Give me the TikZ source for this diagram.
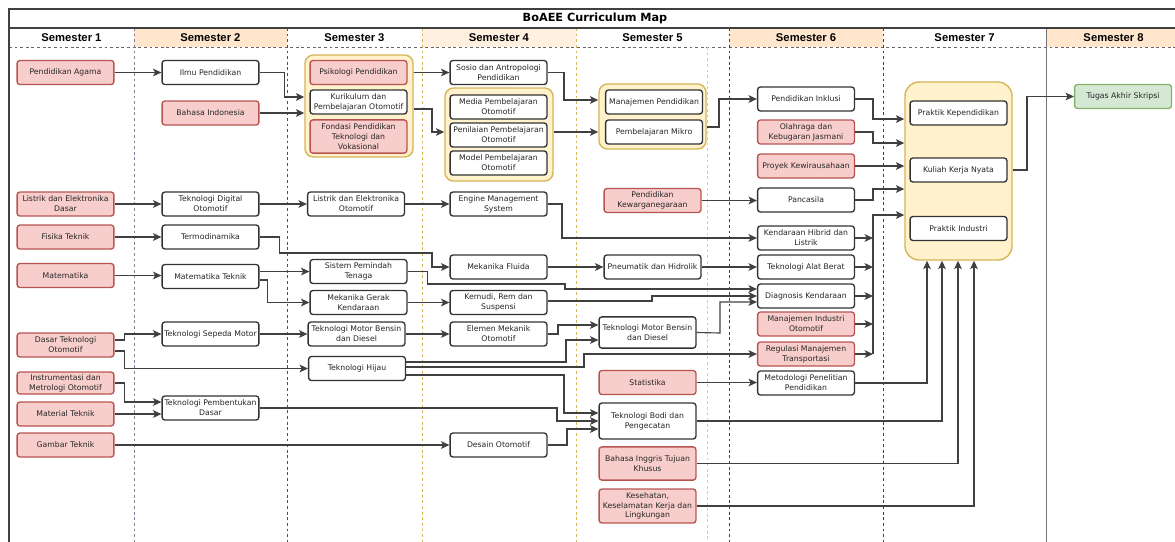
\documentclass[tikz,border=0pt]{standalone}
\usepackage{fontspec}
\setmainfont{DejaVu Sans}
\newfontfamily\hdfont{Liberation Sans}
\usetikzlibrary{arrows.meta}
\definecolor{pinkfill}{HTML}{F8CECC}
\definecolor{pinkline}{HTML}{B85450}
\definecolor{grpfill}{HTML}{FFF2CC}
\definecolor{grpline}{HTML}{D6B656}
\definecolor{greenfill}{HTML}{D5E8D4}
\definecolor{greenline}{HTML}{82B366}
\definecolor{peach}{HTML}{FFE6CC}
\definecolor{peachlt}{HTML}{FFF0E0}
\definecolor{slate}{HTML}{7A8294}
\definecolor{slatedk}{HTML}{4A5060}
\begin{document}
\begin{tikzpicture}[x=0.025cm, y=-0.025cm,
    every node/.style={text=black!85, inner sep=1pt, align=center, font=\fontsize{5.5}{7}\selectfont},
    box/.style={draw=black!80, fill=white, rounded corners=2pt, line width=0.95pt, minimum width=2.42cm, minimum height=0.6cm},
    req/.style={box, draw=pinkline, fill=pinkfill},
    goal/.style={box, draw=greenline, fill=greenfill},
    grp/.style={draw=grpline, fill=grpfill, rounded corners=6pt, line width=1pt, inner sep=0pt},
    arr/.style={draw=black!75, line width=0.8pt, -{Stealth[length=6pt, width=5.5pt, inset=1.5pt]}},
    sem/.style={font=\hdfont\bfseries\fontsize{8}{9}\selectfont, text=black},
    sep/.style={dash pattern=on 2pt off 2pt, line width=0.6pt}]
  \useasboundingbox (0,0) rectangle (1175,541);
  % header
  \fill[peach] (134,28) rectangle (287,47);
  \fill[peachlt] (422,28) rectangle (576,47);
  \fill[peach] (729,28) rectangle (883,47);
  \fill[peach] (1046,28) rectangle (1190,47);
  \draw[sep, draw=black!60] (9,47) -- (1190,47);
  \draw[sep, draw=slate] (134,28) -- (134,560);
  \draw[sep, draw=slatedk] (287,28) -- (287,560);
  \draw[sep, draw=grpline] (422,28) -- (422,560);
  \draw[sep, draw=grpline] (576,28) -- (576,560);
  \draw[sep, draw=black!20] (707,47) -- (707,560);
  \draw[sep, draw=black!75] (729,28) -- (729,560);
  \draw[sep, draw=black!75] (883,28) -- (883,560);
  \draw[draw=black!55, line width=0.6pt] (1046,28) -- (1046,560);
  \draw[draw=black!75, line width=0.9pt] (9,9) rectangle (1190,560);
  \draw[draw=black!75, line width=0.9pt] (9,28) -- (1190,28);
  \node[font=\bfseries\fontsize{8}{9}\selectfont, text=black] (title) at (595,18.5) {BoAEE Curriculum Map};
  \node[sem] (s1) at (71.5,37.5) {Semester 1};
  \node[sem] (s2) at (210.5,37.5) {Semester 2};
  \node[sem] (s3) at (354.5,37.5) {Semester 3};
  \node[sem] (s4) at (499,37.5) {Semester 4};
  \node[sem] (s5) at (652.5,37.5) {Semester 5};
  \node[sem] (s6) at (806,37.5) {Semester 6};
  \node[sem] (s7) at (964.5,37.5) {Semester 7};
  \node[sem] (s8) at (1113.5,37.5) {Semester 8};
  % groups
  \node[grp, minimum width=2.7cm, minimum height=2.55cm] (grpa) at (359,106) {};
  \node[grp, minimum width=2.7cm, minimum height=2.325cm] (grpb) at (499,134.5) {};
  \node[grp, minimum width=2.675cm, minimum height=1.625cm] (grpc) at (652.5,116.5) {};
  \node[grp, rounded corners=10pt, minimum width=2.675cm, minimum height=4.45cm] (grpd) at (958.5,171) {};
  % semester 1
  \node[req] (agama) at (65.5,72.5) {Pendidikan Agama};
  \node[req] (led) at (65.5,204) {Listrik dan Elektronika\\Dasar};
  \node[req] (fisika) at (65.5,237) {Fisika Teknik};
  \node[req] (mtk) at (65.5,275.5) {Matematika};
  \node[req] (dto) at (65.5,345) {Dasar Teknologi\\Otomotif};
  \node[req, minimum height=0.55cm] (imo) at (65.5,383) {Instrumentasi dan\\Metrologi Otomotif};
  \node[req] (mattek) at (65.5,414) {Material Teknik};
  \node[req] (gamtek) at (65.5,445) {Gambar Teknik};
  % semester 2
  \node[box] (ilmu) at (210.5,72.5) {Ilmu Pendidikan};
  \node[req] (bindo) at (210.5,113) {Bahasa Indonesia};
  \node[box] (tdo) at (210.5,204) {Teknologi Digital\\Otomotif};
  \node[box] (termo) at (210.5,237) {Termodinamika};
  \node[box] (mtktek) at (210.5,276.5) {Matematika Teknik};
  \node[box] (tsm) at (210.5,334) {Teknologi Sepeda Motor};
  \node[box] (tpd) at (210.5,408) {Teknologi Pembentukan\\Dasar};
  % semester 3
  \node[req] (psiko) at (358.5,72.5) {Psikologi Pendidikan};
  \node[box] (kurik) at (358.5,102) {Kurikulum dan\\Pembelajaran Otomotif};
  \node[req, minimum height=0.83cm] (fondasi) at (358.5,136.5) {Fondasi Pendidikan\\Teknologi dan\\Vokasional};
  \node[box] (leo) at (356,204) {Listrik dan Elektronika\\Otomotif};
  \node[box] (spt) at (358.5,271.5) {Sistem Pemindah\\Tenaga};
  \node[box] (mgk) at (358.5,302.5) {Mekanika Gerak\\Kendaraan};
  \node[box] (tmbd3) at (356.5,334) {Teknologi Motor Bensin\\dan Diesel};
  \node[box] (hijau) at (357,368.5) {Teknologi Hijau};
  % semester 4
  \node[box] (sosio) at (498.5,72.5) {Sosio dan Antropologi\\Pendidikan};
  \node[box] (media) at (498.5,107) {Media Pembelajaran\\Otomotif};
  \node[box] (penilaian) at (498.5,135) {Penilaian Pembelajaran\\Otomotif};
  \node[box] (model) at (498.5,163) {Model Pembelajaran\\Otomotif};
  \node[box] (ems) at (498.5,204) {Engine Management\\System};
  \node[box] (fluida) at (498.5,267) {Mekanika Fluida};
  \node[box] (kemudi) at (498.5,302.5) {Kemudi, Rem dan\\Suspensi};
  \node[box] (elemen) at (498.5,334) {Elemen Mekanik\\Otomotif};
  \node[box] (desain) at (498.5,445) {Desain Otomotif};
  % semester 5
  \node[box] (manpend) at (654,102) {Manajemen Pendidikan};
  \node[box] (mikro) at (654,132) {Pembelajaran Mikro};
  \node[req] (kwn) at (652.5,200.5) {Pendidikan\\Kewarganegaraan};
  \node[box] (pneu) at (652.5,267) {Pneumatik dan Hidrolik};
  \node[box, minimum height=0.78cm] (tmbd5) at (647.5,332.5) {Teknologi Motor Bensin\\dan Diesel};
  \node[req] (stat) at (647.5,382.5) {Statistika};
  \node[box, minimum height=0.9cm] (bodi) at (647.5,421) {Teknologi Bodi dan\\Pengecatan};
  \node[req, minimum height=0.83cm] (bing) at (647.5,463.5) {Bahasa Inggris Tujuan\\Khusus};
  \node[req, minimum height=0.85cm] (k3l) at (647.5,506) {Kesehatan,\\Keselamatan Kerja dan\\Lingkungan};
  % semester 6
  \node[box] (inklusi) at (806,99) {Pendidikan Inklusi};
  \node[req] (olahraga) at (806,132) {Olahraga dan\\Kebugaran Jasmani};
  \node[req] (proyek) at (806,166) {Proyek Kewirausahaan};
  \node[box] (pancasila) at (806,200) {Pancasila};
  \node[box] (hibrid) at (806,238) {Kendaraan Hibrid dan\\Listrik};
  \node[box] (alat) at (806,267) {Teknologi Alat Berat};
  \node[box] (diag) at (806,296) {Diagnosis Kendaraan};
  \node[req] (mio) at (806,324) {Manajemen Industri\\Otomotif};
  \node[req] (regulasi) at (806,354) {Regulasi Manajemen\\Transportasi};
  \node[box] (metpen) at (806,383) {Metodologi Penelitian\\Pendidikan};
  % semester 7 and 8
  \node[box] (ppl) at (958.5,113) {Praktik Kependidikan};
  \node[box] (kkn) at (958.5,170) {Kuliah Kerja Nyata};
  \node[box] (pi) at (958.5,228.5) {Praktik Industri};
  \node[goal] (skripsi) at (1123,96.5) {Tugas Akhir Skripsi};
  % semester 1 -> 2
  \draw[arr] (agama) -- (ilmu);
  \draw[arr] (led) -- (tdo);
  \draw[arr] (fisika) -- (termo);
  \draw[arr] (mtk.east) -- (mtktek.west |- mtk.east);
  \draw[arr] (dto.east |- 0,340) -- ++(10,0) |- (tsm.west);
  \draw[arr] (dto.east |- 0,351) -- ++(10,0) |- (hijau.west);
  \draw[arr] (imo.east) -- ++(10,0) |- (tpd.west |- 0,402);
  \draw[arr] (mattek.east) -- (tpd.west |- mattek.east);
  \draw[arr] (gamtek.east) -- (desain.west |- gamtek.east);
  % semester 2 -> 3
  \draw[arr] (ilmu.east) -- ++(25,0) |- (grpa.west |- 0,97);
  \draw[arr] (bindo.east) -- (grpa.west |- bindo.east);
  \draw[arr] (tdo) -- (leo);
  \draw[arr] (termo.east) -- ++(20,0) |- (432,253) |- (fluida.west);
  \draw[arr] (mtktek.east |- spt.west) -- (spt.west);
  \draw[arr] (mtktek.east |- 0,280) -- ++(8,0) |- (mgk.west);
  \draw[arr] (tsm.east) -- (tmbd3.west |- tsm.east);
  \draw[arr] (tpd.east) -- (557,408) |- (bodi.west |- 0,421);
  % semester 3 -> 4
  \draw[arr] (grpa.east |- psiko.east) -- (sosio.west);
  \draw[arr] (grpa.east |- 0,109) -- (432,109) |- (grpb.west |- mikro.west);
  \draw[arr] (leo.east) -- (ems.west |- leo.east);
  \draw[arr] (spt.east) -- ++(20,0) |- (565,284) |- (diag.west |- 0,289);
  \draw[arr] (mgk) -- (kemudi);
  \draw[arr] (tmbd3.east) -- (elemen.west |- tmbd3.east);
  \draw[arr] (hijau.east |- 0,362) -- (566,362) |- (tmbd5.west |- 0,340);
  \draw[arr] (hijau.east |- 0,367) -- (584,367) |- (regulasi.west);
  \draw[arr] (hijau.east |- 0,375) -- (564,375) |- (bodi.west |- 0,413);
  % semester 4 -> 5
  \draw[arr] (sosio.east) -- (564,72.5) |- (grpc.west |- 0,100);
  \draw[arr] (grpb.east |- mikro.west) -- (grpc.west |- mikro.west);
  \draw[arr] (ems.east) -- (562,204) |- (hibrid.west);
  \draw[arr] (fluida) -- (pneu);
  \draw[arr] (kemudi.east |- 0,301) -- (652,301) |- (diag.west |- 0,296);
  \draw[arr] (elemen.east) -- (558,334) |- (tmbd5.west |- 0,325);
  \draw[arr] (desain.east |- gamtek.east) -- (567,445) |- (bodi.west |- 0,429);
  % semester 5 -> 6
  \draw[arr] (grpc.east |- 0,127) -- (719,127) |- (inklusi.west);
  \draw[arr] (kwn.east) -- (pancasila.west |- kwn.east);
  \draw[arr] (pneu) -- (alat);
  \draw[arr] (tmbd5.east) -- (720,333) |- (diag.west |- 0,302);
  \draw[arr] (stat.east) -- (metpen.west |- stat.east);
  % semester 6 -> 7
  \draw[arr] (inklusi.east) -- (873,99) |- (grpd.west |- 0,119);
  \draw[arr] (olahraga.east) -- (873,132) |- (grpd.west |- 0,143);
  \draw[arr] (proyek.east) -- (grpd.west |- proyek.east);
  \draw[arr] (pancasila.east) -- (873,200) |- (grpd.west |- 0,189);
  \foreach \n in {hibrid,alat,diag,mio,regulasi}
    \draw[arr] (\n.east) -- (\n.east -| 873,0);
  \draw[arr] (873,354) -- (873,215) -- (grpd.west |- 0,215);
  \draw[arr] (metpen.east) -| (grpd.south -| 927,0);
  \draw[arr] (bodi.east) -| (grpd.south -| 942,0);
  \draw[arr] (bing.east) -| (grpd.south -| 958,0);
  \draw[arr] (k3l.east) -| (grpd.south -| 974,0);
  % semester 7 -> 8
  \draw[arr] (grpd.east |- kkn.east) -- (1027,170) |- (skripsi.west);
\end{tikzpicture}
\end{document}
